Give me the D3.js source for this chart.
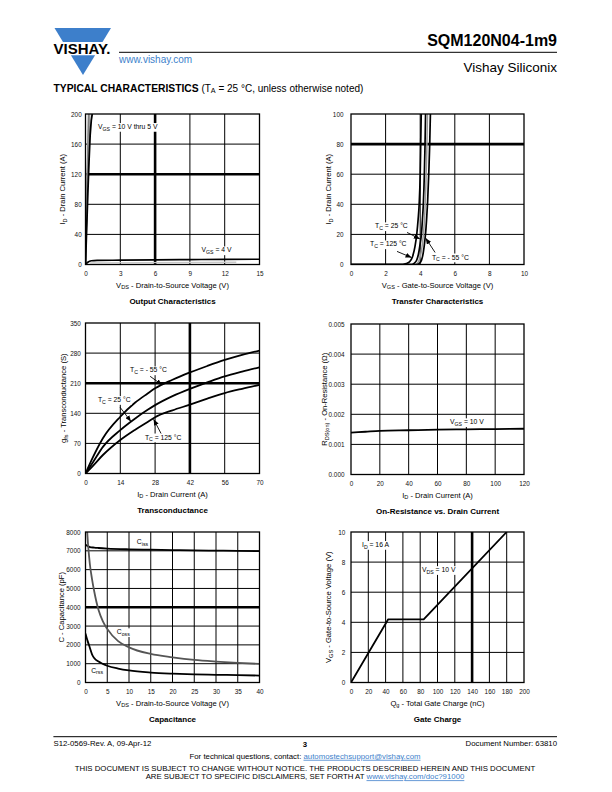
<!DOCTYPE html>
<html><head><meta charset="utf-8">
<script src="https://cdn.jsdelivr.net/npm/d3@7"></script>
<style>body{margin:0;background:#fff}svg{display:block}</style>
</head><body><svg id="c" width="612" height="792"></svg>
<script>
// ---------- DATA ----------
// Output characteristics
const outXTicks = [0,3,6,9,12,15];
const outYTicks = [0,40,80,120,160,200];
const outVgs10 = [[0,0],[0.1,78],[0.2,152],[0.26,200]];
const outVgs9  = [[0,0],[0.1,75],[0.2,148],[0.27,200]];
const outVgs8  = [[0,0],[0.1,72],[0.2,142],[0.29,200]];
const outVgs7  = [[0,0],[0.1,68],[0.2,134],[0.31,200]];
const outVgs6  = [[0,0],[0.1,60],[0.2,118],[0.3,170],[0.36,200]];
const outVgs5  = [[0,0],[0.1,48],[0.2,94],[0.3,136],[0.4,172],[0.5,192],[0.58,200]];
const outVgs4  = [[0,0],[0.2,3],[0.5,5],[1,5.5],[3,5.8],[6,6.2],[9,6.5],[12,6.8],[15,7]];
const outVgs4b = [[0.4,2.2],[5,2.5],[10,2.8],[13,3]];
// Transfer characteristics
const trXTicks = [0,2,4,6,8,10];
const trYTicks = [0,20,40,60,80,100];
const tr125 = [[0,0],[3.0,0],[3.2,0.6],[3.4,2],[3.55,5],[3.7,12],[3.8,20],[3.88,30],[3.94,40],[4.0,60],[4.03,80],[4.06,100]];
const tr25  = [[0,0],[3.5,0],[3.65,0.8],[3.8,3],[3.9,7],[4.0,14],[4.07,20],[4.13,30],[4.18,40],[4.24,60],[4.28,80],[4.31,100]];
const trMid = [[3.7,0],[3.85,1],[3.97,4],[4.07,9],[4.15,16],[4.2,22],[4.27,35],[4.32,50],[4.38,75],[4.42,100]];
const trM55 = [[0,0],[3.8,0],[3.95,0.8],[4.08,3],[4.18,8],[4.27,16],[4.32,22],[4.38,32],[4.43,42],[4.5,62],[4.55,80],[4.59,100]];
// Transconductance
const gfsXTicks = [0,14,28,42,56,70];
const gfsYTicks = [0,70,140,210,280,350];
const gfsM55 = [[0,0],[3,38],[7,82],[14,132],[20,165],[25,186],[28,198],[35,218],[42,235],[49,250],[56,264],[63,276],[70,286]];
const gfs25  = [[0,0],[3,26],[7,62],[14,101],[20,128],[25,148],[28,159],[35,180],[42,197],[49,212],[56,226],[63,237],[70,247]];
const gfs125 = [[0,0],[3,18],[7,43],[14,78],[20,102],[25,120],[28,131],[35,147],[42,160],[49,174],[56,187],[63,197],[70,206]];
// On-resistance
const rdsXTicks = [0,20,40,60,80,100,120];
const rdsYTicks = [0,0.001,0.002,0.003,0.004,0.005];
const rdsVgs10 = [[0,0.00139],[10,0.00142],[20,0.00145],[40,0.00147],[60,0.00149],[80,0.0015],[100,0.00151],[120,0.00152]];
// Capacitance
const capXTicks = [0,5,10,15,20,25,30,35,40];
const capYTicks = [0,1000,2000,3000,4000,5000,6000,7000,8000];
const ciss = [[0,7320],[0.5,7250],[1,7200],[2,7170],[3,7150],[5,7120],[10,7080],[15,7060],[20,7040],[25,7020],[30,7010],[35,7000],[40,6980]];
const coss = [[0,9000],[0.3,8300],[0.6,7300],[1,6300],[1.5,5500],[2,4850],[3,3850],[4,3250],[5,2850],[7.5,2200],[10,1870],[15,1520],[20,1340],[25,1200],[30,1110],[35,1040],[40,990]];
const crss = [[0,2600],[0.5,2200],[1,1850],[1.5,1500],[2,1300],[3,1110],[4,990],[5,890],[7.5,740],[10,640],[15,530],[20,470],[25,430],[30,410],[35,390],[40,370]];
// Gate charge
const qgXTicks = [0,20,40,60,80,100,120,140,160,180,200];
const qgYTicks = [0,2,4,6,8,10];
const vgsQg = [[0,0],[43,4.2],[84,4.2],[180,10]];

// ---------- DRAWING ----------
const FONT = '"Liberation Sans", Arial, Helvetica, sans-serif';
const BLUE = '#3d7fcb';
const TICK = 6.4, AXT = 7.6, TTL = 8, ANN = 6.8;
const svg = d3.select('#c').attr('font-family', FONT);
const defs = svg.append('defs');
defs.append('marker').attr('id','arr').attr('viewBox','0 0 6 5').attr('refX',6).attr('refY',2.5)
  .attr('markerWidth',6).attr('markerHeight',5).attr('markerUnits','userSpaceOnUse').attr('orient','auto')
  .append('path').attr('d','M0,0 L6,2.5 L0,5 z').attr('fill','#000');

function rich(t, parts, subSize){
  let down = false;
  parts.forEach(p => {
    const isSub = Array.isArray(p);
    const ts = t.append('tspan').text(isSub ? p[0] : p);
    if (isSub) { ts.attr('font-size', subSize); if (!down) ts.attr('dy', 1.7); down = true; }
    else if (down) { ts.attr('dy', -1.7); down = false; }
  });
  return t;
}

function panel(c){
  const x = d3.scaleLinear().domain(c.xDomain).range([c.left, c.right]);
  const y = d3.scaleLinear().domain(c.yDomain).range([c.bottom, c.top]);
  const g = svg.append('g');
  const cid = 'clip' + c.id;
  defs.append('clipPath').attr('id', cid).append('rect')
    .attr('x', c.left).attr('y', c.top).attr('width', c.right - c.left).attr('height', c.bottom - c.top);
  const thX = c.thickX || [], thY = c.thickY || [];
  g.append('g').selectAll('line').data(c.xTicks.slice(1, -1)).join('line')
    .attr('x1', d => x(d)).attr('x2', d => x(d)).attr('y1', c.top).attr('y2', c.bottom)
    .attr('stroke', '#000').attr('stroke-width', d => thX.includes(d) ? 2.6 : 1);
  g.append('g').selectAll('line').data(c.yTicks.slice(1, -1)).join('line')
    .attr('y1', d => y(d)).attr('y2', d => y(d)).attr('x1', c.left).attr('x2', c.right)
    .attr('stroke', '#000').attr('stroke-width', d => thY.includes(d) ? 2.6 : 1);
  const ax = g.append('g').attr('transform', `translate(0,${c.bottom})`)
    .call(d3.axisBottom(x).tickValues(c.xTicks).tickSize(0).tickPadding(11 - 0.71 * TICK).tickFormat(c.xFmt || (d => d)));
  const ay = g.append('g').attr('transform', `translate(${c.left},0)`)
    .call(d3.axisLeft(y).tickValues(c.yTicks).tickSize(0).tickPadding(c.yPad).tickFormat(c.yFmt || (d => d)));
  [ax, ay].forEach(a => { a.select('.domain').remove(); a.attr('font-size', TICK).attr('font-family', FONT); a.selectAll('text').attr('fill', '#111'); });
  const plot = g.append('g').attr('clip-path', `url(#${cid})`);
  const cx = (c.left + c.right) / 2;
  rich(g.append('text').attr('x', cx).attr('y', c.bottom + 23).attr('text-anchor', 'middle').attr('font-size', AXT), c.xTitle, 5.6);
  rich(g.append('text').attr('transform', `translate(${c.yTitleX + 2.8},${(c.top + c.bottom) / 2}) rotate(-90)`).attr('text-anchor', 'middle').attr('font-size', AXT), c.yTitle, 5.6);
  g.append('text').attr('x', cx).attr('y', c.bottom + 39.5).attr('text-anchor', 'middle')
    .attr('font-size', TTL).attr('font-weight', 'bold').text(c.title);
  const ann = g.append('g');
  g.append('rect').attr('x', c.left).attr('y', c.top).attr('width', c.right - c.left).attr('height', c.bottom - c.top)
    .attr('fill', 'none').attr('stroke', '#000').attr('stroke-width', 1.3);
  return {x, y, g, plot,
    line(data, color, w, curve){
      plot.append('path').datum(data).attr('fill', 'none').attr('stroke', color).attr('stroke-width', w || 1.8)
        .attr('stroke-linejoin', 'round')
        .attr('d', d3.line().x(d => x(d[0])).y(d => y(d[1])).curve(curve || d3.curveMonotoneX));
    },
    label(px, py, parts){
      const lg = ann.append('g');
      const bg = lg.append('rect').attr('fill', '#fff');
      const t = rich(lg.append('text').attr('x', x(px)).attr('y', y(py)).attr('font-size', ANN), parts, 5.2);
      const b = t.node().getBBox();
      bg.attr('x', b.x - 1).attr('y', b.y).attr('width', b.width + 2).attr('height', b.height);
    },
    arrow(a, b){
      ann.append('line').attr('x1', x(a[0])).attr('y1', y(a[1])).attr('x2', x(b[0])).attr('y2', y(b[1]))
        .attr('stroke', '#000').attr('stroke-width', 0.9).attr('marker-end', 'url(#arr)');
    }
  };
}

const L0 = 85.5, L1 = 259.5, R0 = 351, R1 = 524;

// Output characteristics
const p1 = panel({id:1, xDomain:[0,15], yDomain:[0,200], left:L0, right:L1, top:114, bottom:264.5,
  xTicks:outXTicks, yTicks:outYTicks, thickX:[6], thickY:[120], yTitleX:62, yPad:3.8,
  xTitle:['V',['DS'],' - Drain-to-Source Voltage (V)'], yTitle:['I',['D'],' - Drain Current (A)'], title:'Output Characteristics'});
p1.line(outVgs4b, '#c8c8c8', 1.4, d3.curveLinear);
p1.line(outVgs10, '#bbb', 1.5, d3.curveLinear);
p1.line(outVgs9, '#888', 1.5, d3.curveLinear);
p1.line(outVgs8, '#bbb', 1.5, d3.curveLinear);
p1.line(outVgs7, '#666', 1.5, d3.curveLinear);
p1.line(outVgs6, '#999', 1.5, d3.curveLinear);
p1.line(outVgs5, '#000', 1.8, d3.curveLinear);
p1.line(outVgs4, '#000', 1.6);
p1.label(1.08, 180, ['V',['GS'],' = 10 V thru 5 V']);
p1.label(10.0, 16, ['V',['GS'],' = 4 V']);

// Transfer characteristics
const p2 = panel({id:2, xDomain:[0,10], yDomain:[0,100], left:R0, right:R1, top:114, bottom:264.5,
  xTicks:trXTicks, yTicks:trYTicks, thickY:[80], yTitleX:328.3, yPad:7.5,
  xTitle:['V',['GS'],' - Gate-to-Source Voltage (V)'], yTitle:['I',['D'],' - Drain Current (A)'], title:'Transfer Characteristics'});
p2.line(tr125, '#000', 1.7);
p2.line(tr25, '#000', 1.7);
p2.line(trMid, '#999', 1.5);
p2.line(trM55, '#000', 1.7);
p2.label(1.39, 24, ['T',['C'],' = 25 °C']);
p2.arrow([3.24, 21.3], [3.98, 17]);
p2.label(1.1, 12, ['T',['C'],' = 125 °C']);
p2.arrow([2.66, 8.7], [3.5, 4.6]);
p2.label(4.68, 3.3, ['T',['C'],' = - 55 °C']);
p2.arrow([4.86, 8], [4.32, 17.5]);

// Transconductance
const p3 = panel({id:3, xDomain:[0,70], yDomain:[0,350], left:L0, right:L1, top:323, bottom:473.5,
  xTicks:gfsXTicks, yTicks:gfsYTicks, thickX:[42], thickY:[210], yTitleX:63.3, yPad:4.7,
  xTitle:['I',['D'],' - Drain Current (A)'], yTitle:['g',['fs'],' - Transconductance (S)'], title:'Transconductance'});
p3.line(gfsM55, '#000', 1.8);
p3.line(gfs25, '#000', 1.8);
p3.line(gfs125, '#000', 1.8);
p3.label(17.9, 235, ['T',['C'],' = - 55 °C']);
p3.arrow([26, 226], [30.8, 206]);
p3.label(5.0, 166, ['T',['C'],' = 25 °C']);
p3.arrow([13.9, 154], [18.3, 121]);
p3.label(23.9, 79, ['T',['C'],' = 125 °C']);
p3.arrow([30.4, 93], [27.4, 126]);

// On-resistance
const p4 = panel({id:4, xDomain:[0,120], yDomain:[0,0.005], left:R0, right:R1, top:324, bottom:474.5,
  xTicks:rdsXTicks, yTicks:rdsYTicks, yFmt:d3.format('.3f'), yTitleX:324.3, yPad:6.5,
  xTitle:['I',['D'],' - Drain Current (A)'], yTitle:['R',['DS(on)'],' - On-Resistance (Ω)'], title:'On-Resistance vs. Drain Current'});
p4.line(rdsVgs10, '#000', 1.8);
p4.label(68.7, 0.001667, ['V',['GS'],' = 10 V']);

// Capacitance
const p5 = panel({id:5, xDomain:[0,40], yDomain:[0,8000], left:L0, right:L1, top:532, bottom:682.5,
  xTicks:capXTicks, yTicks:capYTicks, thickY:[4000], yTitleX:61.5, yPad:5,
  xTitle:['V',['DS'],' - Drain-to-Source Voltage (V)'], yTitle:['C - Capacitance (pF)'], title:'Capacitance'});
p5.line(ciss, '#000', 1.8);
p5.line(coss, '#555', 1.8);
p5.line(crss, '#000', 1.8);
p5.label(11.8, 7360, ['C',['iss']]);
p5.label(7.2, 2560, ['C',['oss']]);
p5.label(1.3, 530, ['C',['rss']]);

// Gate charge
const p6 = panel({id:6, xDomain:[0,200], yDomain:[0,10], left:R0, right:R1, top:532, bottom:682.5,
  xTicks:qgXTicks, yTicks:qgYTicks, thickX:[140], yTitleX:328.3, yPad:5.7,
  xTitle:['Q',['g'],' - Total Gate Charge (nC)'], yTitle:['V',['GS'],' - Gate-to-Source Voltage (V)'], title:'Gate Charge'});
p6.line(vgsQg, '#000', 1.8, d3.curveLinear);
p6.label(12.7, 9.0, ['I',['D'],' = 16 A']);
p6.label(82, 7.33, ['V',['DS'],' = 10 V']);

// ---------- HEADER ----------
const hdr = svg.append('g');
hdr.append('path').attr('d', 'M54.5,28 L111,28 L102.5,42 L63,42 Z').attr('fill', BLUE);
hdr.append('path').attr('d', 'M70.9,55.3 L95.1,55.3 L83,75 Z').attr('fill', BLUE);
hdr.append('text').attr('x', 53.5).attr('y', 53.5).attr('font-size', 15).attr('font-weight', 'bold')
  .attr('textLength', 57).attr('lengthAdjust', 'spacingAndGlyphs').text('VISHAY.');
hdr.append('line').attr('x1', 119).attr('x2', 557).attr('y1', 52.3).attr('y2', 52.3).attr('stroke', '#000').attr('stroke-width', 1);
hdr.append('text').attr('x', 557).attr('y', 46).attr('text-anchor', 'end').attr('font-size', 16).attr('font-weight', 'bold').text('SQM120N04-1m9');
hdr.append('text').attr('x', 557).attr('y', 72).attr('text-anchor', 'end').attr('font-size', 13.5).text('Vishay Siliconix');
hdr.append('text').attr('x', 119).attr('y', 62.5).attr('font-size', 10).attr('fill', BLUE).text('www.vishay.com');
const tc = hdr.append('text').attr('x', 53.5).attr('y', 91.5).attr('font-size', 10);
tc.append('tspan').attr('font-weight', 'bold').attr('font-size', 10.3).text('TYPICAL CHARACTERISTICS');
rich(tc, [' (T', ['A'], ' = 25 °C, unless otherwise noted)'], 7.2);

// ---------- FOOTER ----------
const ft = svg.append('g').attr('font-size', 7.8);
ft.append('line').attr('x1', 53.4).attr('x2', 557).attr('y1', 736.7).attr('y2', 736.7).attr('stroke', '#000').attr('stroke-width', 1);
ft.append('text').attr('x', 53.5).attr('y', 746).text('S12-0569-Rev. A, 09-Apr-12');
ft.append('text').attr('x', 305).attr('y', 747).attr('text-anchor', 'middle').attr('font-weight', 'bold').text('3');
ft.append('text').attr('x', 557).attr('y', 746).attr('text-anchor', 'end').text('Document Number: 63810');
const q = ft.append('text').attr('x', 305).attr('y', 758.8).attr('text-anchor', 'middle');
q.append('tspan').text('For technical questions, contact: ');
q.append('tspan').attr('fill', BLUE).attr('text-decoration', 'underline').text('automostechsupport@vishay.com');
ft.append('text').attr('x', 305).attr('y', 770.5).attr('text-anchor', 'middle')
  .text('THIS DOCUMENT IS SUBJECT TO CHANGE WITHOUT NOTICE. THE PRODUCTS DESCRIBED HEREIN AND THIS DOCUMENT');
const d2 = ft.append('text').attr('x', 305).attr('y', 779.3).attr('text-anchor', 'middle');
d2.append('tspan').text('ARE SUBJECT TO SPECIFIC DISCLAIMERS, SET FORTH AT ');
d2.append('tspan').attr('fill', BLUE).attr('text-decoration', 'underline').text('www.vishay.com/doc?91000');
</script>
</body></html>
